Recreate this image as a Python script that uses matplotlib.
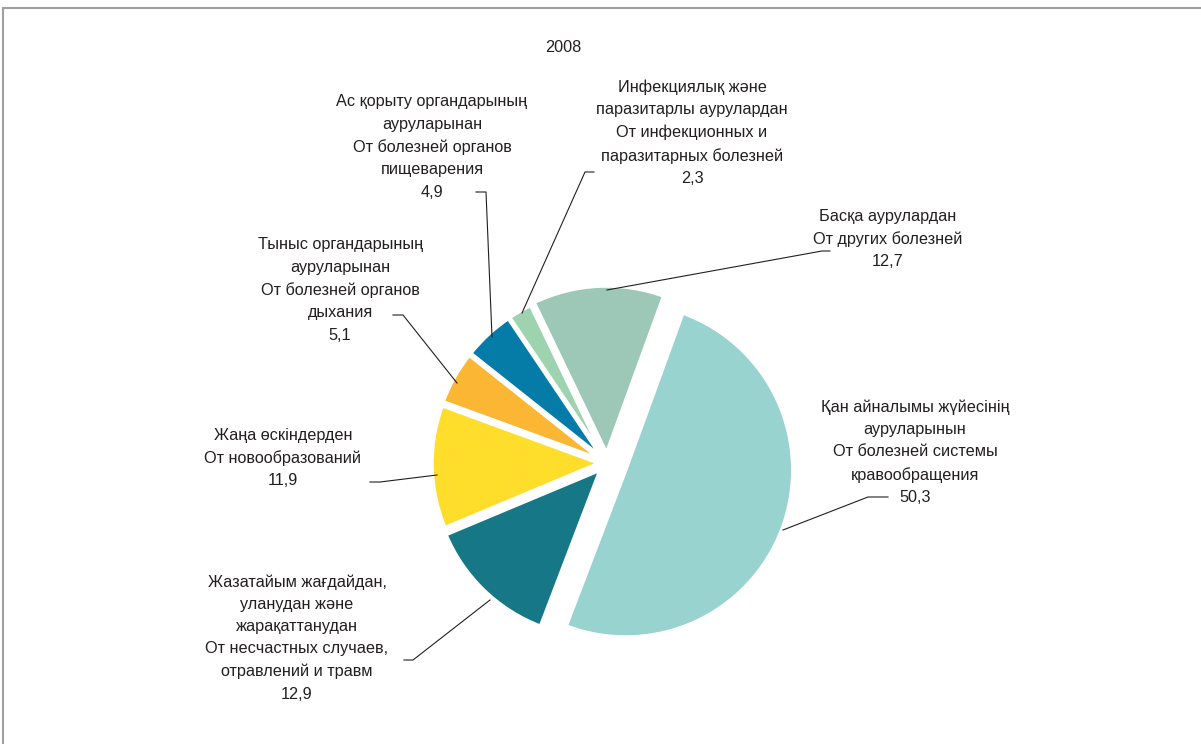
import matplotlib.pyplot as plt

# shares of deaths by cause, 2008 (%)
values = [50.3, 12.9, 11.9, 5.1, 4.9, 2.3, 12.7]
colors = ['#98d3d0', '#167886', '#fedd2b', '#fbb633', '#047ca7', '#9ed3b0', '#9dc8b8']
explode = [20, 10, 8, 8, 8, 8, 10]
labels = [
    'Қан айналымы жүйесінің\nауруларынын\nОт болезней системы\nкравообращения\n50,3',
    'Жазатайым жағдайдан,\nуланудан және\nжарақаттанудан\nОт несчастных случаев,\nотравлений и травм\n12,9',
    'Жаңа өскіндерден\nОт новообразований\n11,9',
    'Тыныс органдарының\nауруларынан\nОт болезней органов\nдыхания\n5,1',
    'Ас қорыту органдарының\nауруларынан\nОт болезней органов\nпищеварения\n4,9',
    'Инфекциялық және\nпаразитарлы аурулардан\nОт инфекционных и\nпаразитарных болезней\n2,3',
    'Басқа аурулардан\nОт других болезней\n12,7',
]
title = '2008'

W, H = 1201, 744

# label centres and leader polylines, image pixel coords (y down)
label_pos = [(915, 452), (297, 638), (283, 458), (340, 290), (432, 147), (692, 133), (888, 239)]
leaders = [
    [(888, 497), (868, 497), (783, 530)],
    [(404, 660), (413, 660), (490, 600)],
    [(370, 482), (380, 482), (437, 475)],
    [(393, 315), (403, 315), (457, 383)],
    [(476, 192), (486, 192), (492, 337)],
    [(594, 172), (585, 172), (522, 313)],
    [(830, 251), (822, 251), (607, 290)],
]


def fy(y):
    return H - y


fig = plt.figure(figsize=(W / 100, H / 100), dpi=100)
ax = fig.add_axes([0, 0, 1, 1])

ax.pie(values, colors=colors, explode=explode, startangle=70, counterclock=False,
       radius=167, center=(607, fy(463)),
       wedgeprops=dict(edgecolor='white', linewidth=2.5))

font = ['Liberation Sans', 'DejaVu Sans']
for lab, (x, y) in zip(labels, label_pos):
    ax.text(x, fy(y), lab, ha='center', va='center', multialignment='center',
            fontsize=11.7, family=font, color='#231f20', linespacing=1.6)

for pts in leaders:
    ax.plot([p[0] for p in pts], [fy(p[1]) for p in pts], color='#231f20', lw=0.8)

ax.text(563, fy(47), title, ha='center', va='center', fontsize=11.7, family=font, color='#231f20')

# frame edges
ax.plot([3, W], [fy(8), fy(8)], color='#a0a0a0', lw=1.5)
ax.plot([3, 3], [fy(8), 0], color='#a0a0a0', lw=1.5)

ax.set_xlim(0, W)
ax.set_ylim(0, H)
ax.set_aspect('equal')
ax.set_axis_off()

fig.savefig('out.png', dpi=100)
